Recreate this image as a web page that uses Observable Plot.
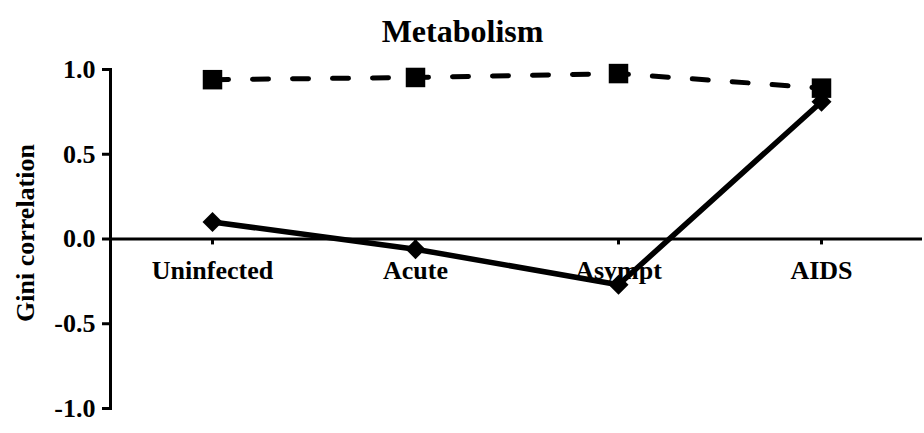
<!DOCTYPE html>
<html>
<head>
<meta charset="utf-8">
<script src="https://cdn.jsdelivr.net/npm/d3@7"></script>
<script src="https://cdn.jsdelivr.net/npm/@observablehq/plot@0.6"></script>
<style>
  html, body { margin: 0; padding: 0; background: #fff; }
  svg { display: block; }
</style>
</head>
<body>
<div id="chart"></div>
<script>
const categories = ["Uninfected", "Acute", "Asympt", "AIDS"];
const squareSeries = [0.94, 0.953, 0.976, 0.89];
const diamondSeries = [0.10, -0.06, -0.27, 0.81];
const yTicks = [-1, -0.5, 0, 0.5, 1];
const titleText = "Metabolism";
const yLabel = "Gini correlation";

const sq = categories.map((c, i) => ({cat: c, v: squareSeries[i]}));
const di = categories.map((c, i) => ({cat: c, v: diamondSeries[i]}));

const font = "'Liberation Serif', 'Times New Roman', serif";

const plot = Plot.plot({
  width: 924,
  height: 433,
  marginLeft: 110,
  marginRight: 2,
  marginTop: 69,
  marginBottom: 25,
  style: {fontFamily: font, fontWeight: "bold", fontSize: "26px", color: "#000", background: "#fff"},
  x: {type: "point", domain: categories, padding: 0.5, axis: null},
  y: {domain: [-1, 1], axis: null},
  marks: [
    Plot.axisY({ticks: yTicks, tickFormat: d => d.toFixed(1), tickSize: 8, tickPadding: 7,
      strokeWidth: 3, fontSize: 26, fontWeight: "bold", label: null}),
    Plot.frame({anchor: "left", strokeWidth: 3}),
    Plot.ruleY([0], {strokeWidth: 3}),
    Plot.ruleX(categories, {x: d => d, y1: 0, y2: -0.035, strokeWidth: 3}),
    Plot.text(categories, {x: d => d, y: 0, dy: 32, fontSize: 26, fontWeight: "bold"}),
    Plot.line(sq, {x: "cat", y: "v", stroke: "#000", strokeWidth: 5, strokeDasharray: "16,24", strokeLinecap: "round"}),
    Plot.dot(sq, {x: "cat", y: "v", symbol: "square", r: 11, fill: "#000", stroke: "none"}),
    Plot.line(di, {x: "cat", y: "v", stroke: "#000", strokeWidth: 5.5}),
    Plot.dot(di, {x: "cat", y: "v", symbol: "diamond2", r: 9, fill: "#000", stroke: "none"}),
    Plot.text([titleText], {frameAnchor: "top", dx: -54, dy: -50, fontSize: 32, fontWeight: "bold", text: d => d}),
    Plot.text([yLabel], {frameAnchor: "left", textAnchor: "middle", dx: -85, dy: -6, rotate: -90, fontSize: 26, fontWeight: "bold", text: d => d})
  ]
});
document.getElementById("chart").appendChild(plot);
</script>
</body>
</html>
